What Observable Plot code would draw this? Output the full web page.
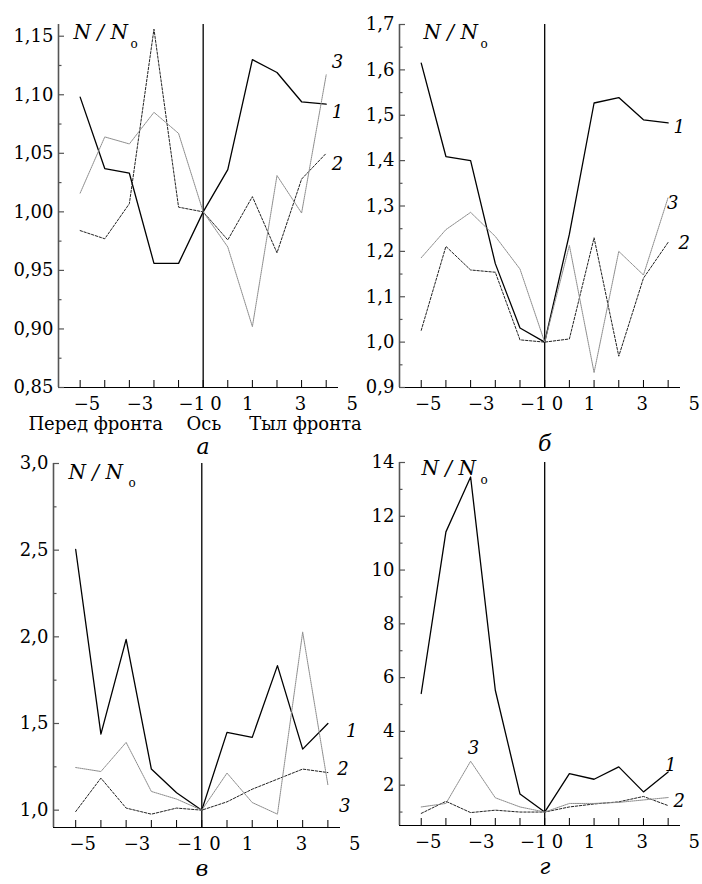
<!DOCTYPE html>
<html><head><meta charset="utf-8">
<script src="https://cdn.jsdelivr.net/npm/d3@7"></script>
<script src="https://cdn.jsdelivr.net/npm/@observablehq/plot@0.6"></script>
<style>
body{margin:0;background:#fff;}
#fig{position:relative;width:702px;height:884px;overflow:hidden;background:#fff;}
.cell{position:absolute;}
.cell svg{overflow:visible;background:transparent;}
.cell svg text{font-family:"DejaVu Serif",serif;fill:#000;}
</style></head><body><div id="fig"></div>
<script>
// Station positions (11 measurement points; the front axis is at 0)
const stations = [-5,-4,-3,-2,-1,0,1,2,3,4,5];
const xTickLabels = ["−5","−3","−1","0","1","3","5"];
const xTickLabelPos = [-4.72,-2.57,-0.46,0.52,1.81,3.95,6.06];
const sideLabels = ["Перед фронта","Ось","Тыл фронта"];
const sideLabelPos = [-4.37, 0.03, 4.16];
const seriesNames = ["1","2","3"];

// Panel а
const a1 = [1.098,1.037,1.033,0.956,0.956,1.000,1.036,1.130,1.119,1.094,1.092];
const a2 = [0.984,0.977,1.007,1.156,1.004,1.000,0.976,1.013,0.965,1.028,1.050];
const a3 = [1.016,1.064,1.058,1.085,1.067,1.000,0.970,0.902,1.031,0.999,1.117];
const yTicksA = [0.85,0.90,0.95,1.00,1.05,1.10,1.15];
const yLabelsA = ["0,85","0,90","0,95","1,00","1,05","1,10","1,15"];
const yMinorA = [0.875,0.925,0.975,1.025,1.075,1.125];

// Panel б
const b1 = [1.615,1.409,1.400,1.173,1.031,1.000,1.238,1.527,1.539,1.490,1.483];
const b2 = [1.026,1.211,1.159,1.154,1.005,1.000,1.007,1.230,0.969,1.141,1.220];
const b3 = [1.186,1.248,1.286,1.233,1.161,1.000,1.213,0.933,1.200,1.148,1.319];
const yTicksB = [0.9,1.0,1.1,1.2,1.3,1.4,1.5,1.6,1.7];
const yLabelsB = ["0,9","1,0","1,1","1,2","1,3","1,4","1,5","1,6","1,7"];
const yMinorB = [0.95,1.05,1.15,1.25,1.35,1.45,1.55,1.65];

// Panel в
const c1 = [2.504,1.439,1.985,1.237,1.100,1.000,1.449,1.420,1.834,1.352,1.500];
const c2 = [0.992,1.185,1.012,0.977,1.012,1.000,1.048,1.121,1.179,1.237,1.217];
const c3 = [1.246,1.223,1.391,1.108,1.064,1.000,1.214,1.044,0.977,2.027,1.146];
const yTicksC = [1.0,1.5,2.0,2.5,3.0];
const yLabelsC = ["1,0","1,5","2,0","2,5","3,0"];
const yMinorC = [1.25,1.75,2.25,2.75];

// Panel г
const d1 = [5.41,11.42,13.46,5.53,1.67,1.00,2.43,2.22,2.68,1.75,2.49];
const d2 = [0.95,1.40,0.98,1.07,1.00,1.00,1.19,1.30,1.38,1.58,1.24];
const d3 = [1.19,1.32,2.89,1.53,1.19,1.00,1.32,1.32,1.36,1.45,1.54];
const yTicksD = [2,4,6,8,10,12,14];
const yLabelsD = ["2","4","6","8","10","12","14"];
const yMinorD = [1,3,5,7,9,11,13];

const panels = [
  {title:"а", left:0, top:0, width:351, height:440, ml:58, mr:13, mt:24, mb:53,
   yDomain:[0.85,1.16], series:[a1,a2,a3], yTicks:yTicksA, yLabels:yLabelsA, yMinor:yMinorA,
   titleDy:66, side:true, nDx:15, nDy:8, oDx:72, oDy:20,
   labels:[{x:5.46,y:1.128,t:"3"},{x:5.46,y:1.085,t:"1"},{x:5.46,y:1.041,t:"2"}]},
  {title:"б", left:351, top:0, width:351, height:440, ml:48, mr:22, mt:24, mb:53,
   yDomain:[0.9,1.7], series:[b1,b2,b3], yTicks:yTicksB, yLabels:yLabelsB, yMinor:yMinorB,
   titleDy:63, side:false, nDx:24, nDy:8, oDx:81, oDy:20,
   labels:[{x:5.45,y:1.473,t:"1"},{x:5.18,y:1.305,t:"3"},{x:5.65,y:1.217,t:"2"}]},
  {title:"в", left:0, top:440, width:351, height:444, ml:53, mr:11, mt:23, mb:57,
   yDomain:[0.9,3.0], series:[c1,c2,c3], yTicks:yTicksC, yLabels:yLabelsC, yMinor:yMinorC,
   titleDy:48, side:false, nDx:15, nDy:9, oDx:75, oDy:20,
   labels:[{x:5.94,y:1.458,t:"1"},{x:5.6,y:1.237,t:"2"},{x:5.67,y:1.025,t:"3"}]},
  {title:"г", left:351, top:440, width:351, height:444, ml:48, mr:22, mt:22, mb:59,
   yDomain:[0.5,14], series:[d1,d2,d3], yTicks:yTicksD, yLabels:yLabelsD, yMinor:yMinorD,
   titleDy:48, side:false, nDx:22, nDy:6, oDx:81, oDy:18,
   labels:[{x:5.1,y:2.74,t:"1"},{x:5.45,y:1.40,t:"2"},{x:-2.88,y:3.36,t:"3"}]}
];

const xDomain = [-5.88, 5.5];
const serif = "DejaVu Serif, serif";
const lineStyles = {
  "1": {stroke:"#000", strokeWidth:1.3},
  "2": {stroke:"#222", strokeWidth:1, strokeDasharray:"2.4,1.6"},
  "3": {stroke:"#8c8c8c", strokeWidth:1, strokeDasharray:"1.2,0.9"}
};

const fig = document.getElementById("fig");
for (const cfg of panels) {
  const fw = cfg.width - cfg.ml - cfg.mr;
  const fh = cfg.height - cfg.mt - cfg.mb;
  const rows = [];
  cfg.series.forEach((vals, s) => vals.forEach((v, i) => rows.push({x: stations[i], y: v, s: seriesNames[s]})));
  const T = {fontFamily: serif, fill: "#000"};
  const marks = [
    Plot.ruleX([0], {stroke:"#000", strokeWidth:1.3}),
    ...seriesNames.map(n => Plot.line(rows.filter(r => r.s === n), {x:"x", y:"y", ...lineStyles[n]})),
    Plot.ruleX([xDomain[0]], {stroke:"#555", strokeWidth:1.6}),
    Plot.ruleY([cfg.yDomain[0]], {stroke:"#000", strokeWidth:1.2}),
    Plot.tickY(cfg.yTicks, {y: d => d, insetRight: fw - 6, stroke:"#555", strokeWidth:1.2}),
    Plot.tickY(cfg.yMinor, {y: d => d, insetRight: fw - 3.5, stroke:"#555", strokeWidth:1.2}),
    Plot.tickX(stations, {x: d => d, insetTop: fh - 7, stroke:"#000", strokeWidth:1}),
    Plot.text(cfg.yTicks, {y: d => d, text: (d, i) => cfg.yLabels[i], frameAnchor:"left", textAnchor:"end", dx:-5, fontSize:18, ...T}),
    Plot.text(xTickLabelPos, {x: d => d, text: (d, i) => xTickLabels[i], frameAnchor:"bottom", lineAnchor:"middle", dy:17, fontSize:18, ...T}),
    Plot.text(["N / N"], {frameAnchor:"top-left", textAnchor:"start", lineAnchor:"middle", dx:cfg.nDx, dy:cfg.nDy, fontSize:20, fontStyle:"italic", ...T}),
    Plot.text(["o"], {frameAnchor:"top-left", textAnchor:"start", lineAnchor:"middle", dx:cfg.oDx, dy:cfg.oDy, fontSize:12, ...T}),
    Plot.text(cfg.labels, {x:"x", y:"y", text:"t", fontSize:18, fontStyle:"italic", ...T}),
    Plot.text([0], {x: d => d, text: () => cfg.title, frameAnchor:"bottom", lineAnchor:"bottom", dy:cfg.titleDy, fontSize:22, fontStyle:"italic", ...T})
  ];
  if (cfg.side) {
    marks.push(Plot.text(sideLabelPos, {x: d => d, text: (d, i) => sideLabels[i], frameAnchor:"bottom", lineAnchor:"middle", dy:37, fontSize:18, ...T}));
  }
  const svg = Plot.plot({
    width: cfg.width, height: cfg.height,
    marginLeft: cfg.ml, marginRight: cfg.mr, marginTop: cfg.mt, marginBottom: cfg.mb,
    x: {domain: xDomain, axis: null},
    y: {domain: cfg.yDomain, axis: null},
    style: {fontFamily: serif, fontSize: "18px", overflow: "visible", background: "transparent", color: "#000"},
    marks
  });
  const cell = document.createElement("div");
  cell.className = "cell";
  cell.style.left = cfg.left + "px";
  cell.style.top = cfg.top + "px";
  cell.append(svg);
  fig.append(cell);
}
</script></body></html>
